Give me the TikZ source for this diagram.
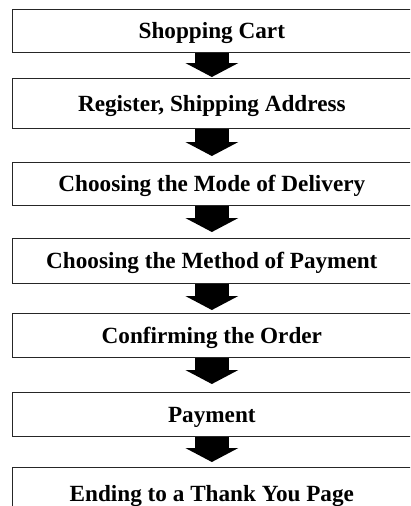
\documentclass[tikz,border=0pt]{standalone}
\usepackage{fontspec}
\setmainfont{Liberation Serif}
\usetikzlibrary{arrows.meta}
\begin{document}
\begin{tikzpicture}[x=1pt,y=-1pt,
  stage/.style={draw=black!85, line width=1.2pt, anchor=north west,
    minimum width=399.5pt, inner sep=0pt,
    font=\fontsize{23.2}{26}\selectfont\bfseries,
    text height=15pt, text depth=0pt},
  flow/.style={line width=34pt,
    -{Triangle[width=53pt,length=14pt,line width=0pt]}}]
  \useasboundingbox (0,0) rectangle (410,506);
  \clip (0,0) rectangle (410,506);
  % checkout stages
  \node[stage, minimum height=43pt] (cart)    at (11.5,9)   {Shopping Cart};
  \node[stage, minimum height=50pt] (reg)     at (11.5,78)  {Register, Shipping Address};
  \node[stage, minimum height=43pt] (mode)    at (11.5,162) {Choosing the Mode of Delivery};
  \node[stage, minimum height=45pt] (method)  at (11.5,238) {Choosing the Method of Payment};
  \node[stage, minimum height=44pt] (confirm) at (11.5,313) {Confirming the Order};
  \node[stage, minimum height=44pt] (pay)     at (11.5,392) {Payment};
  \node[stage, minimum height=53pt] (thanks)  at (11.5,467) {Ending to a Thank You Page};
  % block arrows between stages
  \draw[flow, shorten >=1pt] (cart.south)    -- (reg.north);
  \draw[flow, shorten >=6pt] (reg.south)     -- (mode.north);
  \draw[flow, shorten >=6pt] (mode.south)    -- (method.north);
  \draw[flow, shorten >=3pt] (method.south)  -- (confirm.north);
  \draw[flow, shorten >=8pt] (confirm.south) -- (pay.north);
  \draw[flow, shorten >=5pt] (pay.south)     -- (thanks.north);
\end{tikzpicture}
\end{document}
